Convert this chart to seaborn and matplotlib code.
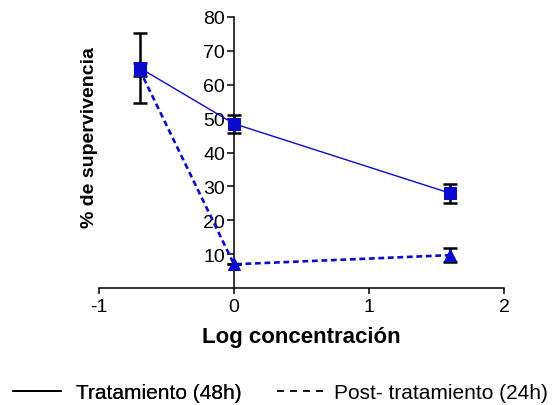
import numpy as np
import pandas as pd
import matplotlib
matplotlib.use("Agg")
import matplotlib.pyplot as plt
from matplotlib.lines import Line2D
import seaborn as sns

# Survival (%) versus log concentration, mean ± error
log_conc = [-0.7, 0.0, 1.6]
trat_mean = [65.0, 48.5, 28.0]
trat_err = [10.3, 2.7, 2.8]
post_mean = [64.5, 7.0, 9.7]
post_err = [2.0, 0.0, 2.0]
series_names = ["Tratamiento (48h)", "Post- tratamiento (24h)"]
y_ticks = [10, 20, 30, 40, 50, 60, 70, 80]
x_ticks = [-1, 0, 1, 2]

sns.set_theme(style="white")
plt.rcParams["font.family"] = ["Liberation Sans", "DejaVu Sans"]
plt.rcParams["text.color"] = "black"
plt.rcParams["axes.labelcolor"] = "black"

blue = "#0a0acc"

df = pd.DataFrame({
    "x": log_conc * 2,
    "y": trat_mean + post_mean,
    "serie": [series_names[0]] * 3 + [series_names[1]] * 3,
})

W, H = 553, 406
fig = plt.figure(figsize=(W / 100, H / 100), dpi=100)
ax = fig.add_axes([99 / W, 1 - 289 / H, 405 / W, 271 / H])

# error bars underneath the markers
ax.errorbar(log_conc, trat_mean, yerr=trat_err, fmt="none", ecolor="black",
            elinewidth=1.8, capsize=4.7, capthick=1.8, zorder=2)
ax.errorbar(log_conc, post_mean, yerr=post_err, fmt="none", ecolor="black",
            elinewidth=1.8, capsize=4.7, capthick=1.8, zorder=2)

sub_t = df[df["serie"] == series_names[0]]
sub_p = df[df["serie"] == series_names[1]]
sns.lineplot(data=sub_p, x="x", y="y", ax=ax, color=blue, linewidth=1.9,
             linestyle=(0, (2.2, 1.4)), marker="^", markersize=8,
             markeredgecolor=blue, markerfacecolor=blue, zorder=3, legend=False)
sns.lineplot(data=sub_t, x="x", y="y", ax=ax, color=blue, linewidth=1.0,
             marker="s", markersize=8, markeredgecolor=blue,
             markerfacecolor=blue, zorder=4, legend=False)

ax.set_xlim(-1, 2)
ax.set_ylim(0, 80)
ax.set_xticks(x_ticks)
ax.set_xticklabels([str(t) for t in x_ticks])
ax.set_yticks(y_ticks)
ax.set_yticklabels([str(t) for t in y_ticks])

for s in ["top", "right"]:
    ax.spines[s].set_visible(False)
ax.spines["left"].set_position(("data", 0))
for s in ["left", "bottom"]:
    ax.spines[s].set_color("black")
    ax.spines[s].set_linewidth(1.1)

ax.tick_params(axis="both", direction="out", width=1.1, bottom=True, left=True,
               color="black", labelsize=14, labelcolor="black")
ax.tick_params(axis="y", length=5, pad=1.5)
ax.tick_params(axis="x", length=4.3, pad=3)
ax.set_xlabel("")
ax.set_ylabel("")

fig.text((99 + 504) / 2 / W, 1 - 338 / H, "Log concentración",
         ha="center", va="center", fontsize=16, fontweight="bold", color="black")
fig.text(90 / W, 1 - 138 / H, "% de supervivencia", rotation=90,
         ha="center", va="center", fontsize=14, fontweight="bold", color="black")

h1 = Line2D([], [], color="black", linewidth=1.3)
h2 = Line2D([], [], color="black", linewidth=1.3, linestyle=(0, (3.9, 3.3)))
leg1 = fig.legend([h1], [series_names[0]], loc="center left",
                  bbox_to_anchor=(13 / W, 1 - 394 / H), frameon=False,
                  fontsize=15, handlelength=2.3, handletextpad=0.7,
                  borderpad=0, borderaxespad=0, labelcolor="black")
fig.add_artist(leg1)
fig.legend([h2], [series_names[1]], loc="center left",
           bbox_to_anchor=(277 / W, 1 - 394 / H), frameon=False,
           fontsize=15, handlelength=2.45, handletextpad=0.3,
           borderpad=0, borderaxespad=0, labelcolor="black")

fig.savefig("out.png", dpi=100)
